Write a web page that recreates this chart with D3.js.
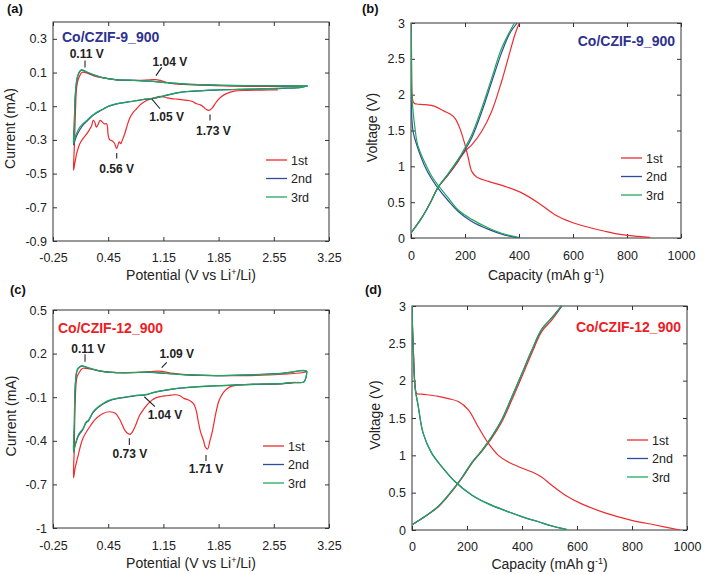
<!DOCTYPE html>
<html><head><meta charset="utf-8">
<script src="https://cdn.jsdelivr.net/npm/d3@7"></script>
<style>
body{margin:0;background:#fff;}
svg{display:block;}
text{font-family:"Liberation Sans",Arial,sans-serif;}
</style></head>
<body><svg id="c" width="704" height="574"></svg>
<script>
// ---------------- DATA ----------------
const seriesNames = ["1st","2nd","3rd"];
const seriesColors = ["#ee2b2e","#2c4c9c","#22a75a"];

const cvXTicks = [-0.25,0.45,1.15,1.85,2.55,3.25];
const cvAYTicks = [0.3,0.1,-0.1,-0.3,-0.5,-0.7,-0.9];
const cvCYTicks = [0.5,0.2,-0.1,-0.4,-0.7,-1];
const gcdXTicks = [0,200,400,600,800,1000];
const gcdYTicks = [0,0.5,1,1.5,2,2.5,3];

// Panel (a) CV, Co/CZIF-9_900  [V, mA]
const cvA_1st = [[2.60,-0.003],[2.40,-0.004],[2.20,-0.006],[2.05,-0.010],[1.95,-0.025],[1.88,-0.045],[1.82,-0.075],[1.77,-0.110],[1.73,-0.125],[1.69,-0.118],[1.66,-0.105],[1.62,-0.092],[1.57,-0.085],[1.52,-0.072],[1.47,-0.066],[1.40,-0.062],[1.33,-0.058],[1.27,-0.056],[1.20,-0.050],[1.11,-0.042],[1.05,-0.048],[0.98,-0.058],[0.92,-0.070],[0.86,-0.090],[0.81,-0.115],[0.77,-0.135],[0.73,-0.164],[0.70,-0.200],[0.66,-0.263],[0.63,-0.300],[0.61,-0.322],[0.59,-0.312],[0.557,-0.352],[0.53,-0.320],[0.50,-0.305],[0.47,-0.300],[0.45,-0.273],[0.43,-0.204],[0.40,-0.205],[0.35,-0.184],[0.32,-0.210],[0.30,-0.224],[0.28,-0.195],[0.26,-0.184],[0.24,-0.215],[0.22,-0.233],[0.18,-0.263],[0.13,-0.292],[0.09,-0.322],[0.05,-0.381],[0.03,-0.430],[0.01,-0.480],[0.02,-0.350],[0.03,-0.200],[0.05,0.013],[0.07,0.060],[0.09,0.082],[0.11,0.098],[0.13,0.102],[0.18,0.097],[0.26,0.082],[0.39,0.068],[0.56,0.057],[0.77,0.053],[0.98,0.057],[1.05,0.058],[1.11,0.053],[1.23,0.037],[1.40,0.029],[1.82,0.022],[2.24,0.018],[2.66,0.018],[2.98,0.020]];
const cvA_2nd = [[2.98,0.020],[2.90,0.012],[2.66,0.006],[2.24,0.001],[1.82,-0.004],[1.49,-0.012],[1.35,-0.019],[1.23,-0.031],[1.14,-0.041],[1.06,-0.050],[0.98,-0.056],[0.89,-0.061],[0.73,-0.073],[0.56,-0.086],[0.46,-0.100],[0.39,-0.117],[0.32,-0.135],[0.26,-0.153],[0.22,-0.170],[0.18,-0.190],[0.13,-0.212],[0.09,-0.240],[0.05,-0.275],[0.03,-0.300],[0.01,-0.330],[0.02,-0.210],[0.03,-0.060],[0.05,0.048],[0.07,0.088],[0.09,0.106],[0.11,0.114],[0.13,0.113],[0.18,0.102],[0.26,0.087],[0.39,0.068],[0.56,0.057],[0.77,0.054],[0.98,0.049],[1.15,0.042],[1.40,0.033],[1.82,0.025],[2.24,0.022],[2.66,0.021],[2.98,0.020]];
const cvA_3rd = [[2.98,0.020],[2.90,0.012],[2.66,0.007],[2.24,0.001],[1.82,-0.003],[1.49,-0.011],[1.35,-0.018],[1.23,-0.030],[1.14,-0.040],[1.06,-0.050],[0.98,-0.055],[0.89,-0.060],[0.73,-0.072],[0.56,-0.085],[0.46,-0.098],[0.39,-0.115],[0.32,-0.132],[0.26,-0.150],[0.22,-0.165],[0.18,-0.184],[0.13,-0.203],[0.09,-0.224],[0.05,-0.260],[0.03,-0.283],[0.01,-0.320],[0.02,-0.200],[0.03,-0.050],[0.05,0.053],[0.07,0.090],[0.09,0.108],[0.11,0.116],[0.13,0.114],[0.18,0.103],[0.26,0.088],[0.39,0.068],[0.56,0.057],[0.77,0.054],[0.98,0.049],[1.15,0.042],[1.40,0.033],[1.82,0.025],[2.24,0.022],[2.66,0.021],[2.98,0.020]];

// Panel (c) CV, Co/CZIF-12_900  [V, mA]
const cvC_1st = [[2.87,0.002],[2.67,-0.007],[2.24,-0.012],[2.05,-0.020],[2.00,-0.027],[1.95,-0.045],[1.92,-0.062],[1.88,-0.095],[1.85,-0.131],[1.81,-0.223],[1.77,-0.337],[1.74,-0.400],[1.71,-0.457],[1.68,-0.440],[1.66,-0.400],[1.62,-0.337],[1.59,-0.260],[1.57,-0.200],[1.55,-0.165],[1.53,-0.142],[1.47,-0.119],[1.41,-0.108],[1.36,-0.090],[1.30,-0.083],[1.25,-0.086],[1.19,-0.090],[1.12,-0.095],[1.06,-0.103],[1.00,-0.122],[0.94,-0.154],[0.89,-0.190],[0.85,-0.223],[0.79,-0.303],[0.755,-0.340],[0.73,-0.356],[0.70,-0.350],[0.66,-0.326],[0.60,-0.257],[0.54,-0.211],[0.47,-0.200],[0.39,-0.210],[0.30,-0.245],[0.22,-0.300],[0.13,-0.383],[0.07,-0.498],[0.03,-0.590],[0.01,-0.654],[0.02,-0.450],[0.03,-0.154],[0.05,0.030],[0.07,0.060],[0.09,0.076],[0.11,0.092],[0.13,0.099],[0.22,0.094],[0.35,0.080],[0.56,0.069],[0.77,0.069],[0.98,0.076],[1.09,0.080],[1.15,0.076],[1.28,0.064],[1.50,0.053],[1.82,0.049],[2.24,0.049],[2.67,0.058],[2.92,0.070],[2.97,0.078]];
const cvC_2nd = [[2.97,0.078],[2.96,0.040],[2.93,0.004],[2.80,0.001],[2.67,-0.006],[2.24,-0.013],[1.82,-0.022],[1.41,-0.036],[1.25,-0.046],[1.11,-0.058],[1.02,-0.069],[0.94,-0.082],[0.77,-0.092],[0.56,-0.110],[0.46,-0.125],[0.39,-0.145],[0.32,-0.172],[0.26,-0.205],[0.20,-0.262],[0.17,-0.275],[0.13,-0.322],[0.07,-0.368],[0.03,-0.435],[0.01,-0.478],[0.02,-0.300],[0.03,-0.045],[0.05,0.072],[0.07,0.098],[0.09,0.108],[0.11,0.114],[0.13,0.113],[0.22,0.098],[0.35,0.080],[0.56,0.069],[0.98,0.071],[1.19,0.063],[1.50,0.052],[1.82,0.049],[2.24,0.054],[2.67,0.066],[2.92,0.082],[2.97,0.078]];
const cvC_3rd = [[2.97,0.080],[2.96,0.040],[2.93,0.005],[2.80,0.002],[2.67,-0.005],[2.24,-0.012],[1.82,-0.021],[1.41,-0.035],[1.25,-0.045],[1.11,-0.057],[1.02,-0.068],[0.94,-0.080],[0.77,-0.090],[0.56,-0.108],[0.46,-0.122],[0.39,-0.142],[0.32,-0.168],[0.26,-0.200],[0.20,-0.257],[0.17,-0.270],[0.13,-0.315],[0.07,-0.360],[0.03,-0.430],[0.01,-0.475],[0.02,-0.300],[0.03,-0.039],[0.05,0.076],[0.07,0.100],[0.09,0.110],[0.11,0.116],[0.13,0.115],[0.22,0.099],[0.35,0.080],[0.56,0.069],[0.98,0.072],[1.19,0.064],[1.50,0.053],[1.82,0.049],[2.24,0.053],[2.67,0.064],[2.92,0.085],[2.97,0.080]];

// Panel (b) charge/discharge, Co/CZIF-9_900  [mAh/g, V]
const gcdB_1st_dis = [[0,3.0],[1,2.6],[2,2.37],[4,2.0],[8,1.90],[14,1.875],[21,1.87],[52,1.86],[86,1.84],[123,1.77],[145,1.73],[163,1.67],[181,1.53],[200,1.30],[212,1.12],[225,0.93],[243,0.85],[287,0.79],[348,0.72],[410,0.63],[472,0.49],[533,0.325],[595,0.22],[657,0.15],[718,0.094],[780,0.047],[842,0.023],[885,0.010]];
const gcdB_1st_chg = [[0,0.07],[39.5,0.28],[74,0.51],[99,0.70],[138,0.88],[175,1.07],[200,1.21],[225,1.30],[262,1.49],[299,1.77],[336,2.19],[360,2.51],[385,2.84],[401,3.0]];
const gcdB_2nd_dis = [[0,3.0],[1,2.3],[2,1.75],[8.6,1.47],[24.7,1.26],[49,1.02],[74,0.84],[99,0.70],[138,0.52],[175,0.37],[225,0.23],[287,0.12],[348,0.04],[404,0.0]];
const gcdB_2nd_chg = [[0,0.07],[39.5,0.28],[74,0.51],[99,0.70],[138,0.89],[175,1.09],[200,1.23],[225,1.40],[262,1.76],[299,2.18],[336,2.59],[365,2.85],[393,3.0]];
const gcdB_3rd_dis = [[0,3.0],[2,2.6],[4,1.95],[14.8,1.53],[24.7,1.30],[49,1.07],[74,0.88],[99,0.74],[138,0.56],[175,0.39],[225,0.26],[287,0.14],[348,0.05],[398,0.01]];
const gcdB_3rd_chg = [[0,0.07],[39.5,0.28],[74,0.51],[99,0.70],[138,0.90],[175,1.10],[200,1.26],[225,1.44],[262,1.81],[299,2.23],[336,2.65],[383,3.0]];

// Panel (d) charge/discharge, Co/CZIF-12_900  [mAh/g, V]
const gcdD_1st_dis = [[0,3.0],[2,2.7],[4.8,2.41],[10.9,1.96],[16.9,1.83],[35,1.82],[96,1.79],[132,1.76],[168.5,1.72],[205,1.61],[241,1.38],[278,1.16],[314,1.00],[350,0.91],[399,0.83],[435,0.78],[471,0.71],[508,0.60],[556,0.47],[617,0.35],[702,0.23],[799,0.13],[884,0.067],[975,0.0]];
const gcdD_1st_chg = [[0,0.07],[47,0.18],[96,0.31],[144,0.51],[181,0.69],[217,0.89],[253,1.05],[290,1.23],[327,1.45],[363,1.74],[399,2.05],[436,2.37],[472,2.66],[508,2.81],[545,3.0]];
const gcdD_2nd_dis = [[0,3.0],[2,2.7],[4.8,2.41],[10.9,1.92],[23,1.65],[41,1.29],[71.5,1.03],[108,0.85],[156,0.65],[217,0.47],[278,0.35],[339,0.26],[399,0.18],[460,0.11],[508,0.056],[560,0.009]];
const gcdD_2nd_chg = [[0,0.07],[47,0.18],[96,0.32],[144,0.52],[181,0.70],[217,0.90],[253,1.06],[290,1.25],[327,1.48],[363,1.78],[399,2.09],[436,2.41],[472,2.69],[508,2.84],[544,3.0]];
const gcdD_3rd_dis = [[0,3.0],[2,2.7],[4.8,2.41],[10.9,1.92],[23,1.65],[41,1.29],[71.5,1.03],[108,0.85],[156,0.65],[217,0.47],[278,0.35],[339,0.26],[399,0.18],[460,0.11],[508,0.054],[563,0.009]];
const gcdD_3rd_chg = [[0,0.07],[47,0.18],[96,0.32],[144,0.52],[181,0.70],[217,0.90],[253,1.06],[290,1.25],[327,1.48],[363,1.78],[399,2.09],[436,2.41],[472,2.69],[508,2.84],[543,3.0]];

// Peak annotations: label, text anchor [x,y], leader line from [x,y] to [x,y] (data units)
const annA = [
  {t:"0.11 V", at:[0.177,0.189], l:[[0.156,0.171],[0.156,0.130]]},
  {t:"1.04 V", at:[1.233,0.141], l:[[1.056,0.082],[1.128,0.131]]},
  {t:"1.05 V", at:[1.192,-0.190], l:[[1.002,-0.056],[1.107,-0.115]]},
  {t:"1.73 V", at:[1.783,-0.269], l:[[1.741,-0.149],[1.741,-0.184]]},
  {t:"0.56 V", at:[0.558,-0.495], l:[[0.558,-0.378],[0.558,-0.411]]}
];
const annC = [
  {t:"0.11 V", at:[0.198,0.202], l:[[0.156,0.195],[0.156,0.144]]},
  {t:"1.09 V", at:[1.319,0.172], l:[[1.128,0.103],[1.192,0.140]]},
  {t:"1.04 V", at:[1.170,-0.252], l:[[0.908,-0.097],[1.043,-0.165]]},
  {t:"0.73 V", at:[0.726,-0.520], l:[[0.718,-0.383],[0.718,-0.429]]},
  {t:"1.71 V", at:[1.690,-0.624], l:[[1.690,-0.498],[1.690,-0.539]]}
];

// ---------------- DRAW ----------------
const svg = d3.select("#c");
const FONT = '"Liberation Sans",Arial,sans-serif';

function panel(cfg){
  const g = svg.append("g");
  const x = d3.scaleLinear().domain(cfg.xd).range([cfg.L, cfg.R]);
  const y = d3.scaleLinear().domain(cfg.yd).range([cfg.B, cfg.T]);
  const W = cfg.R - cfg.L, H = cfg.B - cfg.T;

  // axes (inward ticks on all four sides)
  const ax = (gen, tr, ticks, fmt, pad, lab) => {
    const a = g.append("g").attr("transform", tr)
      .call(gen.tickValues(ticks).tickSizeInner(-4).tickSizeOuter(0).tickPadding(pad)
        .tickFormat(lab ? fmt : () => ""));
    a.select(".domain").remove();
    a.selectAll("line").attr("stroke", "#333");
    a.selectAll("text").attr("font-size", 12.5).attr("fill", "#222").attr("font-family", FONT);
  };
  ax(d3.axisBottom(x), `translate(0,${cfg.B})`, cfg.xt, cfg.xf, cfg.xpad, true);
  ax(d3.axisTop(x), `translate(0,${cfg.T})`, cfg.xt, cfg.xf, 0, false);
  ax(d3.axisLeft(y), `translate(${cfg.L},0)`, cfg.yt, cfg.yf, 6, true);
  ax(d3.axisRight(y), `translate(${cfg.R},0)`, cfg.yt, cfg.yf, 0, false);

  g.append("rect").attr("x", cfg.L).attr("y", cfg.T).attr("width", W).attr("height", H)
    .attr("fill", "none").attr("stroke", "#333").attr("stroke-width", 1);

  // curves
  const line = d3.line().x(d => x(d[0])).y(d => y(d[1])).curve(d3.curveCatmullRom.alpha(0.5));
  const clip = "clip" + cfg.id;
  g.append("clipPath").attr("id", clip).append("rect")
    .attr("x", cfg.L).attr("y", cfg.T - 1).attr("width", W).attr("height", H + 1);
  const cg = g.append("g").attr("clip-path", `url(#${clip})`);
  cfg.series.forEach((s, i) => {
    s.forEach(arr => {
      cg.append("path").datum(arr).attr("d", line).attr("fill", "none")
        .attr("stroke", seriesColors[i]).attr("stroke-width", 1.2).attr("stroke-linejoin", "round");
    });
  });

  // annotations
  (cfg.ann || []).forEach(a => {
    g.append("line").attr("x1", x(a.l[0][0])).attr("y1", y(a.l[0][1]))
      .attr("x2", x(a.l[1][0])).attr("y2", y(a.l[1][1]))
      .attr("stroke", "#222").attr("stroke-width", 1.1);
    g.append("text").attr("x", x(a.at[0])).attr("y", y(a.at[1])).attr("text-anchor", "middle")
      .attr("font-size", 12).attr("font-weight", "bold").attr("fill", "#222").text(a.t);
  });

  // sample title
  g.append("text").attr("x", cfg.titleX).attr("y", cfg.titleY).attr("text-anchor", cfg.titleAnchor)
    .attr("font-size", 14).attr("font-weight", "bold").attr("fill", cfg.titleColor).text(cfg.title);

  // legend
  seriesNames.forEach((n, i) => {
    const yy = cfg.legY + i * 18.5;
    g.append("line").attr("x1", cfg.legX).attr("x2", cfg.legX + 21).attr("y1", yy).attr("y2", yy)
      .attr("stroke", seriesColors[i]).attr("stroke-width", 1.3);
    g.append("text").attr("x", cfg.legX + 25).attr("y", yy + 4.5).attr("font-size", 12.5)
      .attr("fill", "#222").text(n);
  });

  // axis titles
  const xt = g.append("text").attr("x", (cfg.L + cfg.R) / 2).attr("y", cfg.xTitleY)
    .attr("text-anchor", "middle").attr("font-size", 14).attr("fill", "#222");
  cfg.xTitle(xt);
  g.append("text").attr("transform", `translate(${cfg.yTitleX},${(cfg.T + cfg.B) / 2 - 3}) rotate(-90)`)
    .attr("text-anchor", "middle").attr("font-size", 14).attr("fill", "#222").text(cfg.yTitle);

  // panel letter
  g.append("text").attr("x", cfg.letX).attr("y", cfg.letY).attr("font-size", 13)
    .attr("font-weight", "bold").attr("fill", "#111").text(cfg.letter);
}

const cvFmt = d => d.toFixed(2);
const potTitle = t => { t.append("tspan").text("Potential (V vs Li");
  t.append("tspan").attr("font-size", 9).attr("dy", -5).text("+");
  t.append("tspan").attr("dy", 5).text("/Li)"); };
const capTitle = t => { t.append("tspan").text("Capacity (mAh g");
  t.append("tspan").attr("font-size", 9).attr("dy", -5).text("-1");
  t.append("tspan").attr("dy", 5).text(")"); };

panel({id:"a", L:53, R:329, T:22, B:241, xd:[-0.25,3.25], yd:[-0.9,0.4],
  xt:cvXTicks, xf:cvFmt, yt:cvAYTicks, yf:d => d3.format(".1f")(d).replace("−","-"), xpad:12,
  series:[[cvA_1st],[cvA_2nd],[cvA_3rd]], ann:annA,
  title:"Co/CZIF-9_900", titleColor:"#2e3190", titleX:62, titleY:42, titleAnchor:"start",
  legX:266, legY:160, xTitle:potTitle, xTitleY:280, yTitle:"Current (mA)", yTitleX:15,
  letter:"(a)", letX:7, letY:13});

panel({id:"b", L:411, R:681, T:23, B:238, xd:[0,1000], yd:[0,3],
  xt:gcdXTicks, xf:d => String(d), yt:gcdYTicks, yf:d => String(d), xpad:13,
  series:[[gcdB_1st_dis,gcdB_1st_chg],[gcdB_2nd_dis,gcdB_2nd_chg],[gcdB_3rd_dis,gcdB_3rd_chg]],
  title:"Co/CZIF-9_900", titleColor:"#2e3190", titleX:675, titleY:46, titleAnchor:"end",
  legX:621, legY:158, xTitle:capTitle, xTitleY:280, yTitle:"Voltage (V)", yTitleX:377,
  letter:"(b)", letX:362, letY:13});

panel({id:"c", L:53, R:329, T:310, B:528, xd:[-0.25,3.25], yd:[-1,0.5],
  xt:cvXTicks, xf:cvFmt, yt:cvCYTicks, yf:d => (d === -1 ? "-1" : d3.format(".1f")(d)).replace("−","-"), xpad:13,
  series:[[cvC_1st],[cvC_2nd],[cvC_3rd]], ann:annC,
  title:"Co/CZIF-12_900", titleColor:"#ee1c25", titleX:58, titleY:333, titleAnchor:"start",
  legX:263, legY:446, xTitle:potTitle, xTitleY:568, yTitle:"Current (mA)", yTitleX:16,
  letter:"(c)", letX:10, letY:294});

panel({id:"d", L:412, R:687, T:306, B:530, xd:[0,1000], yd:[0,3],
  xt:gcdXTicks, xf:d => String(d), yt:gcdYTicks, yf:d => String(d), xpad:12,
  series:[[gcdD_1st_dis,gcdD_1st_chg],[gcdD_2nd_dis,gcdD_2nd_chg],[gcdD_3rd_dis,gcdD_3rd_chg]],
  title:"Co/CZIF-12_900", titleColor:"#ee1c25", titleX:681, titleY:332, titleAnchor:"end",
  legX:627, legY:440, xTitle:capTitle, xTitleY:569, yTitle:"Voltage (V)", yTitleX:380,
  letter:"(d)", letX:365, letY:294});
</script></body></html>
